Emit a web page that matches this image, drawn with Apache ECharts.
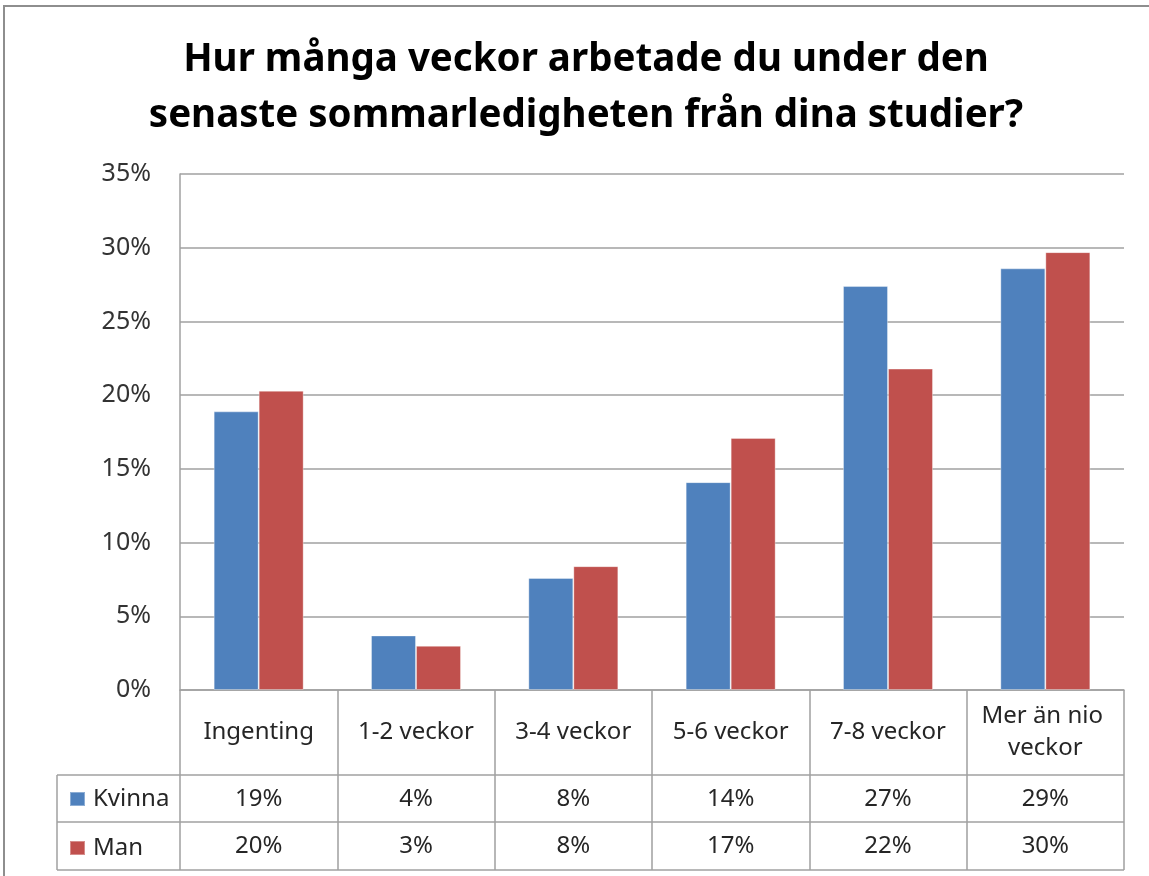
<!DOCTYPE html>
<html>
<head>
<meta charset="utf-8">
<title>Sommarjobb</title>
<script src="https://cdn.jsdelivr.net/npm/echarts@6/dist/echarts.min.js"></script>
<style>
  body { margin: 0; background: #ffffff; }
  #frame { position: absolute; left: 3px; top: 5px; width: 1200px; height: 1000px; border: 2px solid #8e8e8e; }
  #container { position: absolute; left: 0; top: 0; width: 1149px; height: 876px; }
</style>
</head>
<body>
<div id="frame"></div>
<div id="container"></div>
<script>
// data
var categories = ['Ingenting', '1-2 veckor', '3-4 veckor', '5-6 veckor', '7-8 veckor', 'Mer än nio veckor'];
var seriesNames = ['Kvinna', 'Man'];
var kvinna = [18.9, 3.7, 7.6, 14.1, 27.4, 28.6];
var man = [20.3, 3.0, 8.4, 17.1, 21.8, 29.7];
var yTicks = [0, 5, 10, 15, 20, 25, 30, 35];

var FONT = '"Noto Sans"';
var GRID_LEFT = 180, GRID_RIGHT = 25, GRID_TOP = 174, GRID_BOTTOM = 186;
var W = 1149, H = 876;
var axisY = H - GRID_BOTTOM;          // 0% line
var row1 = axisY + 85, row2 = row1 + 47, row3 = row2 + 48;
var tableLeft = 57, tableRight = W - GRID_RIGHT;
var lineGray = '#a0a0a0';
var textCol = '#262626';

var chart = echarts.init(document.getElementById('container'));

function hline(y) {
  return { type: 'line', shape: { x1: tableLeft, y1: y, x2: tableRight, y2: y },
           style: { stroke: lineGray, lineWidth: 1.5 } };
}

function rowLegend(name, y) {
  return { data: [name], left: 69, top: y, padding: 0, orient: 'vertical', icon: 'rect',
           itemWidth: 15, itemHeight: 14, selectedMode: false,
           textStyle: { fontFamily: FONT, fontSize: 24, color: textCol, padding: [0, 0, 0, 3] } };
}

var option = {
  animation: false,
  title: {
    text: 'Hur många veckor arbetade du under den\nsenaste sommarledigheten från dina studier?',
    left: 581, top: 27, textAlign: 'center',
    textStyle: { fontFamily: FONT, fontWeight: 'bold', fontSize: 38.5, lineHeight: 56, color: '#000' }
  },
  legend: [ rowLegend(seriesNames[0], row1 + 12), rowLegend(seriesNames[1], row2 + 14) ],
  grid: { left: GRID_LEFT, right: GRID_RIGHT, top: GRID_TOP, bottom: GRID_BOTTOM },
  xAxis: [
    {
      type: 'category', data: categories, position: 'bottom',
      axisLine: { show: true, lineStyle: { color: lineGray, width: 1.5 } },
      axisTick: { show: true, length: row3 - axisY, lineStyle: { color: lineGray, width: 1.5 } },
      axisLabel: {
        interval: 0, margin: 42, verticalAlign: 'middle', width: 145, overflow: 'break',
        lineHeight: 32, fontFamily: FONT, fontSize: 24, color: textCol
      }
    },
    {
      type: 'category', data: categories, position: 'bottom',
      axisLine: { show: false }, axisTick: { show: false },
      axisLabel: {
        interval: 0, margin: row1 - axisY + 24, verticalAlign: 'middle',
        fontFamily: FONT, fontSize: 24, color: textCol,
        formatter: function (v, i) { return Math.round(kvinna[i]) + '%'; }
      }
    },
    {
      type: 'category', data: categories, position: 'bottom',
      axisLine: { show: false }, axisTick: { show: false },
      axisLabel: {
        interval: 0, margin: row2 - axisY + 24, verticalAlign: 'middle',
        fontFamily: FONT, fontSize: 24, color: textCol,
        formatter: function (v, i) { return Math.round(man[i]) + '%'; }
      }
    }
  ],
  yAxis: {
    type: 'value', min: yTicks[0], max: yTicks[yTicks.length - 1], interval: 5,
    axisLine: { show: true, lineStyle: { color: lineGray, width: 1.5 } },
    axisTick: { show: false },
    axisLabel: { margin: 29, fontFamily: FONT, fontSize: 25, color: '#333',
                 formatter: function (v) { return v + '%'; } },
    splitLine: { lineStyle: { color: lineGray, width: 1.5 } }
  },
  series: [
    { name: seriesNames[0], type: 'bar', data: kvinna, barWidth: 45, barGap: '0%',
      itemStyle: { color: '#4f81bd', borderColor: 'rgba(255,255,255,0.35)', borderWidth: 1 } },
    { name: seriesNames[1], type: 'bar', data: man, barWidth: 45,
      itemStyle: { color: '#c0504d', borderColor: 'rgba(255,255,255,0.35)', borderWidth: 1 } }
  ],
  graphic: [
    hline(row1), hline(row2), hline(row3),
    { type: 'line', shape: { x1: tableLeft, y1: row1, x2: tableLeft, y2: row3 },
      style: { stroke: lineGray, lineWidth: 1.5 } }
  ]
};

chart.setOption(option);
</script>
</body>
</html>
